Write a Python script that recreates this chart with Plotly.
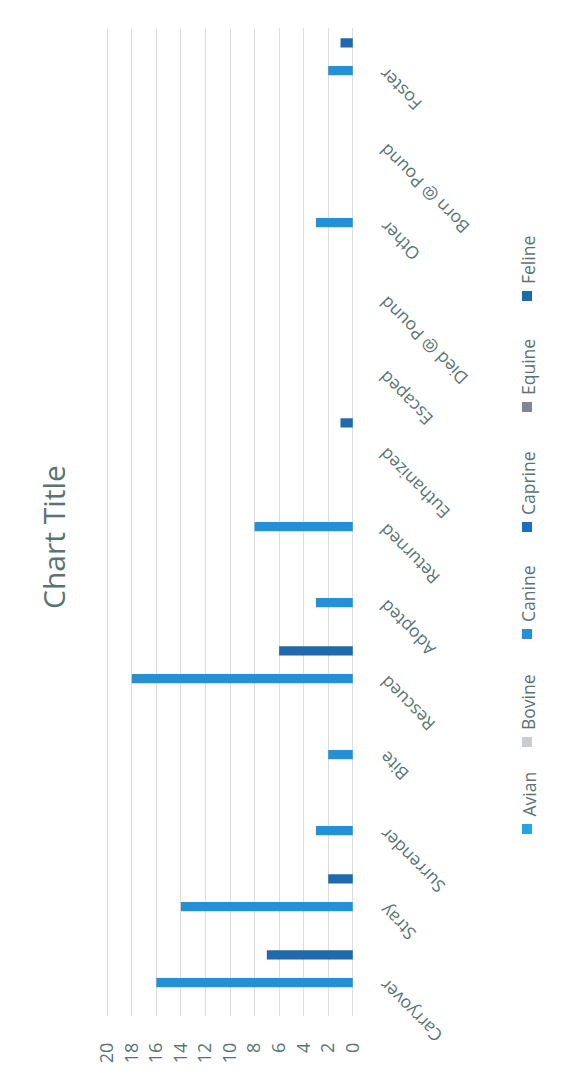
import plotly.graph_objects as go

categories = ["Carryover", "Stray", "Surrender", "Bite", "Rescued", "Adopted", "Returned",
              "Euthanized", "Escaped", "Died @ Pound", "Other", "Born @ Pound", "Foster"]
series_names = ["Avian", "Bovine", "Canine", "Caprine", "Equine", "Feline"]
avian = [0] * 13
bovine = [0] * 13
canine = [16, 14, 3, 2, 18, 3, 8, 0, 0, 0, 3, 0, 2]
caprine = [0] * 13
equine = [0] * 13
feline = [7, 2, 0, 0, 6, 0, 0, 1, 0, 0, 0, 0, 1]
value_ticks = [0, 2, 4, 6, 8, 10, 12, 14, 16, 18, 20]

series_values = [avian, bovine, canine, caprine, equine, feline]
colors = ["#2aa4dc", "#c9ccd1", "#2590d4", "#1a6fc0", "#7f8790", "#1f6aac"]
TXT = "#5a7373"
FONT = "Open Sans"

W, H = 563, 1082
L, R, T, B = 106, 209, 28, 66
PW, PH = W - L - R, H - T - B


def px_x(px):
    return (px - L) / PW


def px_y(py):
    return (H - B - py) / PH


fig = go.Figure()
for name, vals, col in zip(series_names, series_values, colors):
    fig.add_trace(go.Bar(
        x=vals, y=categories, name=name, orientation="h",
        marker=dict(color=col, line=dict(width=0)),
        showlegend=False,
    ))

annotations = []
shapes = []

# rotated category labels
for c in categories:
    annotations.append(dict(
        x=px_x(371), xref="paper", y=c, yref="y",
        text=c, showarrow=False, textangle=-135,
        xanchor="left", yanchor="top", yshift=6,
        font=dict(family=FONT, size=17.5, color=TXT),
    ))

# title
annotations.append(dict(
    x=px_x(53), xref="paper", y=px_y(537), yref="paper",
    text="Chart Title", showarrow=False, textangle=-90,
    xanchor="center", yanchor="middle",
    font=dict(family=FONT, size=30, color=TXT),
))

# rotated legend
legend_sq = [829, 742, 634, 527, 407, 296]
for name, col, sy in zip(series_names, colors, legend_sq):
    shapes.append(dict(
        type="rect", xref="paper", yref="paper",
        x0=px_x(522), x1=px_x(532), y0=px_y(sy + 5), y1=px_y(sy - 5),
        fillcolor=col, line=dict(width=0),
    ))
    annotations.append(dict(
        x=px_x(528), xref="paper", y=px_y(sy - 10), yref="paper",
        text=name, showarrow=False, textangle=-90,
        xanchor="center", yanchor="bottom",
        font=dict(family=FONT, size=17.5, color=TXT),
    ))

fig.update_layout(
    width=W, height=H,
    margin=dict(l=L, r=R, t=T, b=B, pad=0),
    paper_bgcolor="white", plot_bgcolor="white",
    barmode="group", bargap=0.27, bargroupgap=0,
    annotations=annotations, shapes=shapes,
    xaxis=dict(
        range=[20.1, -0.1], tickvals=value_ticks, ticktext=[str(v) for v in value_ticks],
        tickangle=-90, ticks="", ticklabelstandoff=22,
        tickfont=dict(family=FONT, size=18, color=TXT),
        showgrid=True, gridcolor="#dcdcdc", gridwidth=1,
        zeroline=False, showline=False, fixedrange=True,
    ),
    yaxis=dict(
        categoryorder="array", categoryarray=categories,
        range=[-0.5, 12.5], showticklabels=False, showgrid=False,
        zeroline=False, showline=False, ticks="", fixedrange=True,
    ),
)

fig.write_html("out.html")
